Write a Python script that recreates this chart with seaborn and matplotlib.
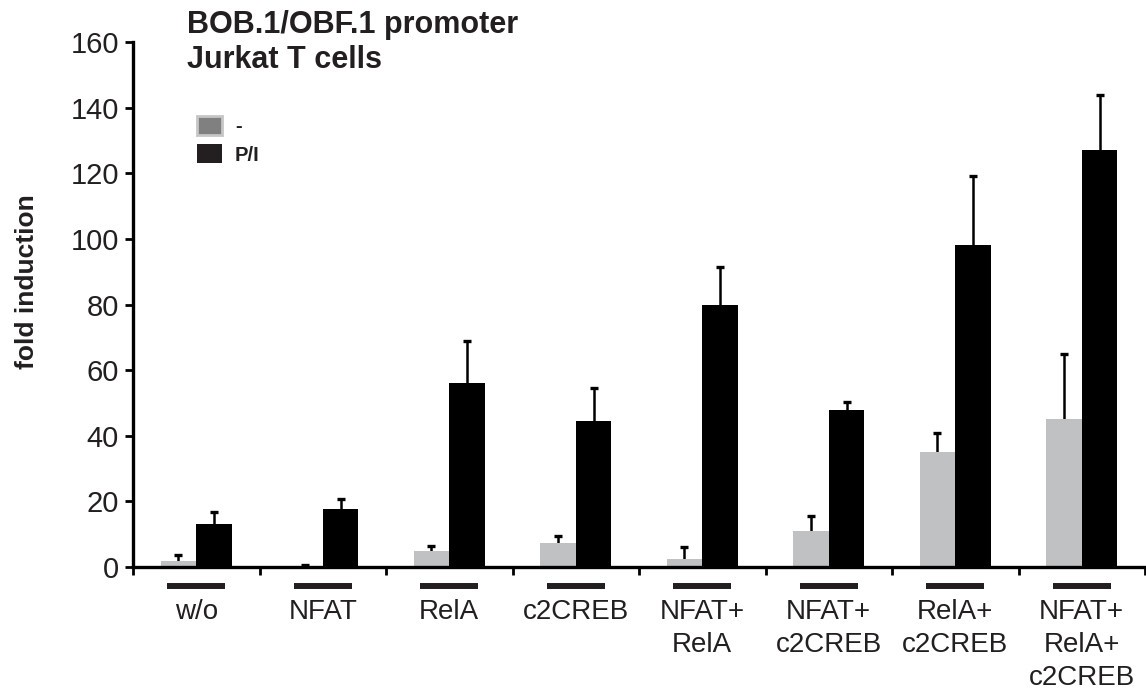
import numpy as np
import pandas as pd
import matplotlib
matplotlib.use("Agg")
import matplotlib.pyplot as plt
from matplotlib.patches import Patch
import seaborn as sns

# Reporter constructs co-transfected with the BOB.1/OBF.1 promoter
conditions = ["w/o", "NFAT", "RelA", "c2CREB", "NFAT+\nRelA",
              "NFAT+\nc2CREB", "RelA+\nc2CREB", "NFAT+\nRelA+\nc2CREB"]
treatments = ["-", "P/I"]

# Mean fold induction and upper error (SD) for unstimulated cells
unstim_mean = [1.7, 0.4, 4.9, 7.3, 2.5, 10.9, 35.2, 45.1]
unstim_err = [1.9, 0.3, 1.6, 2.2, 3.7, 4.6, 5.6, 19.8]
# Mean fold induction and upper error (SD) for PMA/ionomycin stimulated cells
pi_mean = [13.0, 17.6, 56.2, 44.6, 79.7, 47.8, 98.2, 127.1]
pi_err = [3.9, 3.0, 12.7, 10.1, 11.8, 2.4, 21.1, 16.7]

yticks = [0, 20, 40, 60, 80, 100, 120, 140, 160]

TEXT = "#231f20"
GREY = "#bfc1c3"
BLACK = "#000000"

sns.set_style("ticks")
plt.rcParams["font.family"] = ["Liberation Sans", "DejaVu Sans"]
plt.rcParams["text.color"] = TEXT

df = pd.DataFrame({
    "condition": conditions * 2,
    "treatment": [treatments[0]] * len(conditions) + [treatments[1]] * len(conditions),
    "value": unstim_mean + pi_mean,
})

fig = plt.figure(figsize=(11.46, 6.98), dpi=100)
ax = fig.add_axes([133 / 1146, 1 - 567 / 698, 1012 / 1146, 525 / 698])

sns.barplot(data=df, x="condition", y="value", hue="treatment",
            order=conditions, hue_order=treatments,
            palette={"-": GREY, "P/I": BLACK}, saturation=1,
            width=0.564, gap=0, errorbar=None, legend=False,
            edgecolor="none", linewidth=0, ax=ax, zorder=2)

# Upper-only error bars: whisker from the bar top, cap only at the upper end
for cont, errs in zip(ax.containers, [unstim_err, pi_err]):
    xs = [p.get_x() + p.get_width() / 2 for p in cont.patches]
    hs = [p.get_height() for p in cont.patches]
    ax.errorbar(xs, hs, yerr=[np.zeros(len(errs)), errs], fmt="none",
                ecolor=BLACK, elinewidth=1.8, capsize=0, zorder=1)
    ax.plot(xs, np.add(hs, errs), linestyle="none", marker="_",
            markersize=5.5, markeredgewidth=2.4, color=BLACK, zorder=1)

ax.set_xlim(-0.5, len(conditions) - 0.5)
ax.set_ylim(0, 160)
ax.set_yticks(yticks)
ax.set_yticklabels([str(t) for t in yticks], fontsize=21, color=TEXT)
ax.set_xticks(range(len(conditions)))
ax.set_xticklabels(conditions, fontsize=20, color=TEXT, linespacing=1.36)
ax.set_xticks(np.arange(-0.5, len(conditions)), minor=True)
ax.tick_params(axis="x", which="major", length=0, pad=23)
ax.tick_params(axis="x", which="minor", length=6, width=2, direction="out",
               color=BLACK)
ax.tick_params(axis="y", which="major", length=6, width=2, direction="out",
               color=BLACK, pad=4)
ax.set_xlabel("")
ax.set_ylabel("")

for side in ["top", "right"]:
    ax.spines[side].set_visible(False)
for side in ["left", "bottom"]:
    ax.spines[side].set_linewidth(2.4)
    ax.spines[side].set_color(BLACK)
    ax.spines[side].set_zorder(3)

# Short bars under each group
ax.hlines([-0.036] * len(conditions),
          np.arange(len(conditions)) - 0.23, np.arange(len(conditions)) + 0.23,
          transform=ax.get_xaxis_transform(), clip_on=False,
          colors=TEXT, linewidth=4.3)

handles = [Patch(facecolor="#808080", edgecolor="#c4c6c8", linewidth=2.0),
           Patch(facecolor=TEXT, edgecolor=TEXT, linewidth=0)]
leg = ax.legend(handles, treatments, loc="upper left",
                bbox_to_anchor=(0.063, 0.86), frameon=False,
                handlelength=1.25, handleheight=1.1, handletextpad=0.65,
                labelspacing=0.4, borderpad=0, borderaxespad=0,
                prop={"weight": "bold", "size": 14.5})

fig.text(187 / 1146, 1 - 10 / 698, "BOB.1/OBF.1 promoter\nJurkat T cells",
         ha="left", va="top", fontsize=22, fontweight="bold", color=TEXT,
         linespacing=1.2)
fig.text(27 / 1146, 1 - 282 / 698, "fold induction", rotation=90,
         ha="center", va="center", fontsize=19, fontweight="bold", color=TEXT)

fig.savefig("out.png", dpi=100)
